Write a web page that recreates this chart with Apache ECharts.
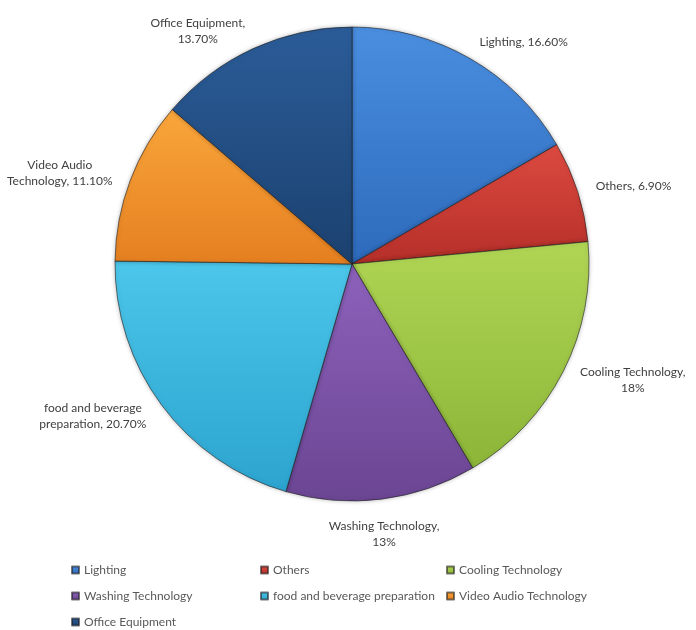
<!DOCTYPE html>
<html>
<head>
<meta charset="utf-8">
<script src="https://cdn.jsdelivr.net/npm/echarts@6/dist/echarts.min.js"></script>
<style>
  html, body { margin: 0; padding: 0; background: #fff; }
  #main { width: 696px; height: 630px; }
</style>
</head>
<body>
<div id="main"></div>
<script>
// share of each product group (%), clockwise from 12 o'clock
var categories = ['Lighting', 'Others', 'Cooling Technology', 'Washing Technology',
  'food and beverage preparation', 'Video Audio Technology', 'Office Equipment'];
var shares = [16.6, 6.9, 18, 13, 20.7, 11.1, 13.7];
var shareLabels = ['16.60%', '6.90%', '18%', '13%', '20.70%', '11.10%', '13.70%'];
// where the slice label wraps (Excel text box)
var labelHeads = ['Lighting,', 'Others,', 'Cooling Technology,', 'Washing Technology,',
  'food and beverage\npreparation,', 'Video Audio\nTechnology,', 'Office Equipment,'];
var labelBreak = [false, false, true, true, false, false, true];

// legend grid: 3 columns
var legendCols = [
  ['Lighting', 'Washing Technology', 'Office Equipment'],
  ['Others', 'food and beverage preparation'],
  ['Cooling Technology', 'Video Audio Technology']
];

var colorsLight = ['#4a8ee0', '#dc4a40', '#b0d555', '#8d61bb', '#4cc6ea', '#f9a63c', '#2b5c98'];
var colorsDark = ['#2d6abb', '#b52f29', '#8cb638', '#6b4693', '#2ca4cf', '#e57f20', '#1b416f'];

var total = shares.reduce(function (a, b) { return a + b; }, 0);

function midSin(i) {
  var before = 0;
  for (var k = 0; k < i; k++) before += shares[k];
  var cw = (before + shares[i] / 2) / total * 2 * Math.PI;
  return Math.sin(cw);
}

var pieData = [];
for (var i = 0; i < categories.length; i++) {
  pieData.push({
    name: categories[i],
    value: shares[i],
    itemStyle: {
      color: new echarts.graphic.LinearGradient(0, 0, 0, 1, [
        { offset: 0, color: colorsLight[i] },
        { offset: 1, color: colorsDark[i] }
      ])
    }
  });
}

var colLeft = [71, 260, 446];
var legends = legendCols.map(function (names, c) {
  return {
    data: names,
    orient: 'vertical',
    left: colLeft[c],
    top: 564,
    height: 80,
    padding: 0,
    itemGap: 14,
    itemWidth: 7,
    itemHeight: 7,
    icon: 'rect',
    selectedMode: false,
    textStyle: { fontFamily: 'Lato', fontSize: 12, color: '#595959' }
  };
});

var myChart = echarts.init(document.getElementById('main'));
myChart.setOption({
  backgroundColor: '#ffffff',
  animation: false,
  legend: legends,
  series: [
    {
      type: 'pie',
      center: [352, 264],
      radius: 237,
      startAngle: 90,
      clockwise: true,
      data: pieData,
      itemStyle: {
        borderColor: 'rgba(30,30,30,0.6)',
        borderWidth: 1,
        shadowBlur: 4,
        shadowColor: 'rgba(0,0,0,0.25)'
      },
      label: {
        show: true,
        position: 'outside',
        distanceToLabelLine: 0,
        edgeDistance: 0,
        bleedMargin: 0,
        overflow: 'none',
        fontFamily: 'Lato',
        fontSize: 12,
        lineHeight: 16,
        color: '#404040',
        formatter: function (p) {
          var i = p.dataIndex;
          return labelHeads[i] + (labelBreak[i] ? '\n' : ' ') + shareLabels[i];
        }
      },
      labelLine: { show: false, length: 19, length2: 0 },
      labelLayout: function (params) {
        var r = params.labelRect;
        if (Math.abs(midSin(params.dataIndex)) < 0.3) {
          return { x: r.x, y: r.y + r.height, align: 'center', verticalAlign: 'middle' };
        }
        return { x: r.x + r.width / 2, y: r.y + r.height / 2, align: 'center', verticalAlign: 'middle' };
      },
      emphasis: { disabled: true }
    }
  ]
});
</script>
</body>
</html>
